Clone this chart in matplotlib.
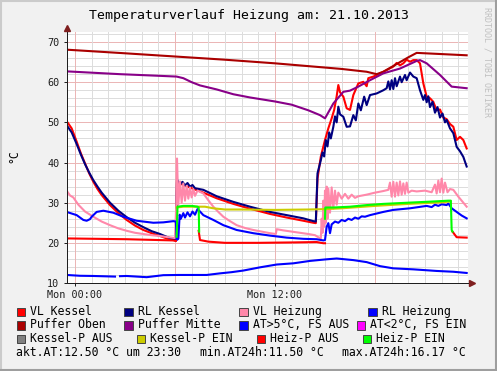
import numpy as np
import matplotlib
matplotlib.use("Agg")
import matplotlib.pyplot as plt
from matplotlib.patches import Rectangle
from matplotlib.lines import Line2D

nan = np.nan

# ---- data (hours relative to Mon 00:00) ----
t_vlk = [-0.5, -0.2, 0.1, 0.35, 0.6, 0.85, 1.1, 1.35, 1.6, 2.1, 2.6, 3.1, 3.6, 4.1, 4.6, 5.1, 5.5, 5.9, 6.05,
         6.12, 6.4, 7.0, 7.7, 8.5, 9.5, 10.5, 11.7, 12.7, 13.7, 14.3, 14.45,
         14.55, 14.75, 15.0, 15.2, 15.4, 15.55, 15.7, 15.8, 15.9, 16.1, 16.3, 16.5, 16.7, 17.0, 17.3, 17.5,
         17.6, 17.9, 18.5, 19.1, 19.3, 19.5, 19.7, 19.9, 20.1, 20.3, 20.5, 20.7, 20.9, 21.1, 21.3, 21.5,
         21.7, 21.9, 22.1, 22.3, 22.5, 22.7, 22.9, 23.1, 23.3, 23.5]
v_vlk = [50.3, 48.5, 45.2, 42.3, 39.8, 37.3, 35.2, 33.4, 31.9, 29.4, 27.4, 25.7, 24.3, 23.2, 22.4, 21.7, 21.1, 20.7, 20.5,
         35.2, 34.6, 33.6, 32.5, 31.1, 29.7, 28.5, 27.2, 26.3, 25.5, 25.0, 24.9,
         36.0, 41.5, 45.6, 48.5, 51.0, 53.1, 56.5, 59.3, 57.5, 56.4, 53.5, 53.1, 56.8, 59.7, 60.1, 59.0,
         61.0, 61.4, 62.6, 63.9, 64.8, 64.2, 64.7, 65.6, 65.1, 65.5, 65.5, 64.7, 59.7, 56.4, 56.0, 55.1,
         53.0, 53.2, 51.2, 50.8, 49.6, 48.9, 45.6, 46.4, 45.6, 43.5]

t_rlk = [-0.5, -0.2, 0.1, 0.35, 0.6, 0.85, 1.1, 1.35, 1.6, 2.1, 2.6, 3.1, 3.6, 4.1, 4.6, 5.1, 5.5, 5.9, 6.05,
         6.12, 6.3, 6.45, 6.6, 6.75, 6.9, 7.05, 7.2, 7.7, 8.5, 9.5, 10.5, 11.7, 12.7, 13.7, 14.3, 14.45,
         14.55, 14.75, 14.85, 14.95, 15.05, 15.15, 15.25, 15.35, 15.5, 15.6, 15.7, 15.8, 15.9, 16.1, 16.3,
         16.5, 16.7, 16.85, 17.0, 17.15, 17.35, 17.5, 17.7, 18.1, 18.5, 18.7, 18.8, 18.9, 19.0, 19.1, 19.2,
         19.3, 19.5, 19.6, 19.8, 19.9, 20.1, 20.3, 20.5, 20.7, 20.9, 21.0, 21.1, 21.2, 21.3, 21.45, 21.6,
         21.75, 21.9, 22.05, 22.2, 22.3, 22.5, 22.7, 22.9, 23.1, 23.3, 23.5]
v_rlk = [49.3, 47.5, 44.6, 42.0, 39.6, 37.5, 35.6, 34.0, 32.5, 30.0, 28.0, 26.4, 25.0, 23.9, 22.9, 22.2, 21.5, 20.9, 20.6,
         35.8, 34.5, 35.2, 34.3, 34.9, 34.0, 34.4, 33.6, 33.2, 31.6, 30.2, 29.0, 27.7, 26.9, 26.1, 25.4, 25.3,
         37.3, 40.6, 42.5, 41.5, 45.6, 44.0, 47.5, 46.0, 48.9, 51.5, 50.0, 53.9, 52.0, 51.4, 48.9,
         49.0, 51.8, 50.5, 54.7, 53.0, 56.4, 54.3, 56.8, 57.2, 58.0, 58.5, 60.2, 58.2, 60.5, 58.3, 61.0,
         59.0, 61.4, 60.0, 61.8, 60.5, 62.4, 61.4, 61.0, 58.0, 55.6, 56.8, 55.0, 56.5, 53.8, 55.1, 52.4,
         53.8, 51.2, 52.2, 50.0, 50.6, 48.5, 47.3, 43.9, 42.8, 41.4, 39.0]

t_vlh = [-0.5, -0.3, -0.1, 0.2, 0.6, 1.1, 1.6, 2.1, 2.6, 3.1, 3.6, 4.1, 4.6, 5.1, 5.6, 6.0,
         6.08, 6.12, 6.2, 6.3, 6.4, 6.5, 6.6, 6.7, 6.8, 6.9, 7.0, 7.1, 7.2, 7.35, 7.7, 8.0, 8.3, 8.6, 8.9,
         9.3, 9.7, 10.2, 10.7, 11.2, 11.7, 12.05, 12.1, 12.5, 13.0, 13.5, 14.0, 14.4, 14.6, 14.75,
         14.8, 14.85, 14.9, 14.95, 15.0, 15.05, 15.1, 15.15, 15.2, 15.3, 15.4, 15.5, 15.6, 15.7, 15.8,
         16.0, 16.2, 16.4, 16.6, 16.8, 17.0, 17.5, 18.0, 18.5, 18.8, 18.9, 19.0, 19.1, 19.2, 19.3, 19.4,
         19.5, 19.6, 19.7, 19.8, 19.9, 20.0, 20.2, 20.5, 21.0, 21.4, 21.6, 21.7, 21.8, 21.9, 22.0, 22.1,
         22.2, 22.35, 22.5, 22.7, 23.0, 23.3, 23.5]
v_vlh = [33.0, 31.8, 31.3, 29.5, 27.8, 26.5, 25.3, 24.4, 23.6, 23.0, 22.5, 22.2, 21.9, 21.7, 21.4, 21.2,
         30.0, 41.0, 29.5, 35.3, 30.0, 34.8, 30.5, 34.2, 31.0, 33.8, 31.3, 33.4, 31.7, 33.0, 32.3, 30.6, 29.0, 27.7, 26.5,
         25.4, 24.4, 23.7, 23.2, 22.8, 22.4, 22.2, 23.4, 23.1, 22.8, 22.5, 22.2, 21.9, 21.4, 21.1,
         26.0, 22.5, 30.5, 24.0, 33.0, 25.0, 34.0, 26.0, 33.5, 27.5, 33.8, 28.5, 33.0, 29.5, 32.5,
         31.0, 32.2, 31.0, 32.0, 31.2, 31.6, 32.0, 32.5, 32.9, 33.2, 35.0, 31.5, 35.2, 31.5, 35.0, 31.8,
         35.3, 32.0, 34.8, 32.2, 35.0, 32.5, 33.0, 32.8, 33.0, 32.6, 34.5, 32.3, 35.5, 32.6, 36.0, 32.5,
         35.0, 32.6, 33.4, 33.2, 31.5, 30.0, 29.0]

t_rlh = [-0.5, -0.2, 0.1, 0.5, 0.7, 0.9, 1.0, 1.3, 1.7, 2.3, 2.9, 3.7, 4.7, 5.3, 5.9, 6.05,
         6.1, 6.2, 6.28, 6.35, 6.5, 6.6, 6.75, 6.9, 7.05, 7.2, 7.35, 7.5, 7.7, 8.3, 8.9, 9.7, 10.7, 11.7,
         12.7, 13.7, 14.5, 14.9, 15.0, 15.1, 15.2, 15.3, 15.4, 15.6, 15.8, 16.0, 16.2, 16.4, 16.6, 16.8,
         17.0, 17.2, 17.4, 17.7, 18.1, 18.5, 19.1, 19.6, 20.1, 20.6, 21.1, 21.4, 21.6, 21.8, 22.0, 22.3,
         22.4, 22.6, 22.9, 23.2, 23.5]
v_rlh = [27.7, 27.3, 26.9, 25.7, 25.5, 25.9, 26.5, 27.7, 28.0, 27.5, 26.5, 25.5, 25.0, 25.1, 25.4, 25.3,
         20.7, 21.0, 27.0, 26.0, 27.4, 26.3, 27.6, 26.6, 27.8, 27.0, 28.4, 27.8, 26.9, 25.7, 24.4, 23.2, 22.4, 21.8,
         21.3, 21.0, 20.9, 20.6, 20.7, 24.0, 24.9, 22.4, 24.6, 25.3, 25.0, 25.7, 25.4, 26.0, 25.7, 26.3,
         26.0, 26.6, 26.5, 26.9, 27.3, 27.7, 28.2, 28.4, 28.6, 28.9, 29.2, 28.9, 29.5, 29.2, 29.6, 29.4,
         29.8, 28.6, 27.7, 26.8, 26.1]

t_po = [-0.5, 3.0, 6.0, 9.0, 12.0, 14.0, 16.0, 17.5, 17.8, 18.1, 18.5, 19.0, 19.5, 20.0, 20.5, 22.0, 23.5]
v_po = [68.1, 67.2, 66.4, 65.6, 64.7, 64.0, 63.3, 62.6, 62.3, 62.0, 62.6, 63.8, 65.0, 66.2, 67.3, 67.0, 66.7]

t_pm = [-0.5, 2.7, 5.0, 6.1, 6.5, 7.0, 7.5, 8.5, 9.5, 10.5, 12.0, 13.0, 14.0, 14.7, 15.0, 15.5, 16.1,
        16.5, 17.0, 17.7, 18.5, 19.5, 20.5, 20.7, 21.1, 21.9, 22.6, 23.5]
v_pm = [62.7, 62.0, 61.6, 61.4, 61.0, 60.0, 59.2, 58.2, 57.0, 56.2, 55.2, 54.4, 53.0, 51.8, 51.0, 54.7, 57.6,
        57.9, 58.9, 60.5, 62.2, 63.4, 65.3, 65.5, 64.7, 61.8, 58.9, 58.5]

t_at = [-0.5, 0.3, 1.1, 2.4, 2.55, 2.7, 3.1, 3.7, 4.3, 4.8, 5.3, 6.2, 7.1, 7.9, 8.7, 9.4, 10.1, 11.1, 12.1,
        13.1, 14.1, 15.1, 15.7, 16.7, 17.5, 18.3, 19.1, 20.3, 21.7, 22.7, 23.5]
v_at = [12.0, 11.8, 11.75, 11.6, nan, 11.7, 11.75, 11.6, 11.45, 11.7, 11.95, 12.0, 12.0, 12.0, 12.4, 12.7, 13.1, 13.9, 14.6,
        14.9, 15.5, 15.9, 16.1, 15.7, 15.2, 14.2, 13.65, 13.4, 13.0, 12.8, 12.5]

t_kpe = [6.1, 6.5, 7.4, 7.8, 8.3, 9.0, 10.0, 12.0, 14.0, 15.0, 16.0, 18.0, 20.0, 22.0, 22.55]
v_kpe = [28.8, 29.0, 29.0, 29.0, 28.6, 28.3, 28.3, 28.2, 28.3, 28.4, 28.6, 29.2, 29.7, 30.1, 30.3]

t_hpa = [-0.5, 3.1, 5.9, 6.05, 6.07, 7.42, 7.5, 8.0, 9.0, 11.0, 13.0, 14.5, 14.9, 15.0, 15.01, 22.65, 22.9, 23.5]
v_hpa = [21.1, 20.9, 20.6, 20.5, nan, 23.0, 20.7, 20.3, 20.0, 20.0, 20.1, 20.2, 19.9, 19.9, nan, 22.8, 21.4, 21.3]

t_hpe = [6.1, 6.15, 6.5, 7.0, 7.35, 7.42, 7.45, 7.5, 15.0, 15.02, 15.5, 16.5, 17.5, 18.5, 19.5, 20.5, 21.5, 22.4, 22.55, 22.6, 22.65]
v_hpe = [21.5, 29.0, 29.2, 29.2, 29.0, 28.8, 22.8, nan, 26.0, 28.8, 28.8, 29.0, 29.4, 29.7, 29.9, 30.1, 30.3, 30.5, 30.5, 23.2, 22.8]

legend_labels = ["VL Kessel", "RL Kessel", "VL Heizung", "RL Heizung",
                 "Puffer Oben", "Puffer Mitte", "AT>5°C, FS AUS", "AT<2°C, FS EIN",
                 "Kessel-P AUS", "Kessel-P EIN", "Heiz-P AUS", "Heiz-P EIN"]
legend_colors = ["#ff0000", "#000080", "#ff88aa", "#0000ff",
                 "#aa0000", "#880088", "#0000ff", "#ff00ff",
                 "#808080", "#cccc00", "#ff0000", "#00ff00"]
footer = ["akt.AT:12.50 °C um 23:30", "min.AT24h:11.50 °C", "max.AT24h:16.17 °C"]

W, H = 497, 371
MONO = "DejaVu Sans Mono"

fig = plt.figure(figsize=(W / 100, H / 100), dpi=100, facecolor="#f1f1f1")

# 3d frame
fig.add_artist(Line2D([0, 1], [1 - 1 / H, 1 - 1 / H], color="#cbcbcb", lw=1.5, transform=fig.transFigure))
fig.add_artist(Line2D([1 / W, 1 / W], [0, 1], color="#cbcbcb", lw=1.5, transform=fig.transFigure))
fig.add_artist(Line2D([0, 1], [1 / H, 1 / H], color="#9e9e9e", lw=1.5, transform=fig.transFigure))
fig.add_artist(Line2D([1 - 1 / W, 1 - 1 / W], [0, 1], color="#9e9e9e", lw=1.5, transform=fig.transFigure))

ax = fig.add_axes([67 / W, (H - 283) / H, (468 - 67) / W, (283 - 32) / H])
ax.set_facecolor("white")

ax.set_xlim(-0.48, 23.58)
ax.set_ylim(10, 72.5)

# grid lines (light, rrdtool style)
for yv in np.arange(12, 73, 2):
    major = yv % 10 == 0
    ax.axhline(yv, color="#ebb4b4" if major else "#dcdcdc", lw=0.7, zorder=0)
for xv in range(0, 24):
    major = xv % 6 == 0
    ax.axvline(xv, color="#ebb4b4" if major else "#dcdcdc", lw=0.7, zorder=0)

series = [
    (t_vlk, v_vlk, "#ff0000"),
    (t_rlk, v_rlk, "#000080"),
    (t_vlh, v_vlh, "#ff88aa"),
    (t_rlh, v_rlh, "#0000ff"),
    (t_po, v_po, "#aa0000"),
    (t_pm, v_pm, "#880088"),
    (t_at, v_at, "#0000ff"),
    (t_kpe, v_kpe, "#cccc00"),
    (t_hpa, v_hpa, "#ff0000"),
    (t_hpe, v_hpe, "#00ff00"),
]
for t, v, c in series:
    ax.plot(t, v, color=c, lw=1.5, zorder=2)

ax.set_yticks(range(10, 71, 10))
ax.set_xticks([0, 12])
ax.set_xticklabels(["Mon 00:00", "Mon 12:00"])
ax.tick_params(labelsize=7.3, colors="#1f1f1f", width=0.72, length=2.5)
ax.tick_params(axis="y", pad=3)
ax.tick_params(axis="x", pad=2.5)
for lab in ax.get_xticklabels() + ax.get_yticklabels():
    lab.set_family(MONO)
for s in ["top", "right"]:
    ax.spines[s].set_visible(False)
for s in ["left", "bottom"]:
    ax.spines[s].set_color("#1f1f1f")
    ax.spines[s].set_linewidth(0.72)
ax.plot([0], [1 + 4 / 251], marker="^", color="#7f1f1f", ms=4, transform=ax.transAxes, clip_on=False)
ax.plot([1 + 4 / 401], [0], marker=">", color="#7f1f1f", ms=4, transform=ax.transAxes, clip_on=False)

def fx(x):
    return x / W

def fy(y):
    return 1 - y / H

fig.text(fx(249), fy(16), "Temperaturverlauf Heizung am: 21.10.2013", family=MONO, fontsize=9.5,
         ha="center", va="center")
fig.text(fx(14), fy(156), "°C", family=MONO, fontsize=8.3, rotation=90, ha="center", va="center")
fig.text(fx(487.5), fy(62), "RRDTOOL / TOBI OETIKER", family=MONO, fontsize=6, rotation=270,
         color="#c0c0c0", ha="center", va="center")

# legend
rows = [311.5, 325.0, 338.5]
box_x = [[16.7, 124.3, 239.3, 368.3],
         [16.7, 124.3, 239.3, 356.7],
         [16.7, 136.7, 256.7, 362.7]]
for i, (lab, col) in enumerate(zip(legend_labels, legend_colors)):
    r, c = divmod(i, 4)
    bx = box_x[r][c]
    y = rows[r]
    fig.add_artist(Rectangle((fx(bx), fy(y + 4.5)), 8.5 / W, 8.5 / H, transform=fig.transFigure,
                             facecolor=col, edgecolor="#444444", lw=0.7))
    fig.text(fx(bx + 13.5), fy(y), lab, family=MONO, fontsize=8.3, ha="left", va="center")

for x, txt in zip([16, 200, 342.3], footer):
    fig.text(fx(x), fy(352.5), txt, family=MONO, fontsize=8.3, ha="left", va="center")

fig.savefig("out.png", dpi=100, facecolor=fig.get_facecolor())
